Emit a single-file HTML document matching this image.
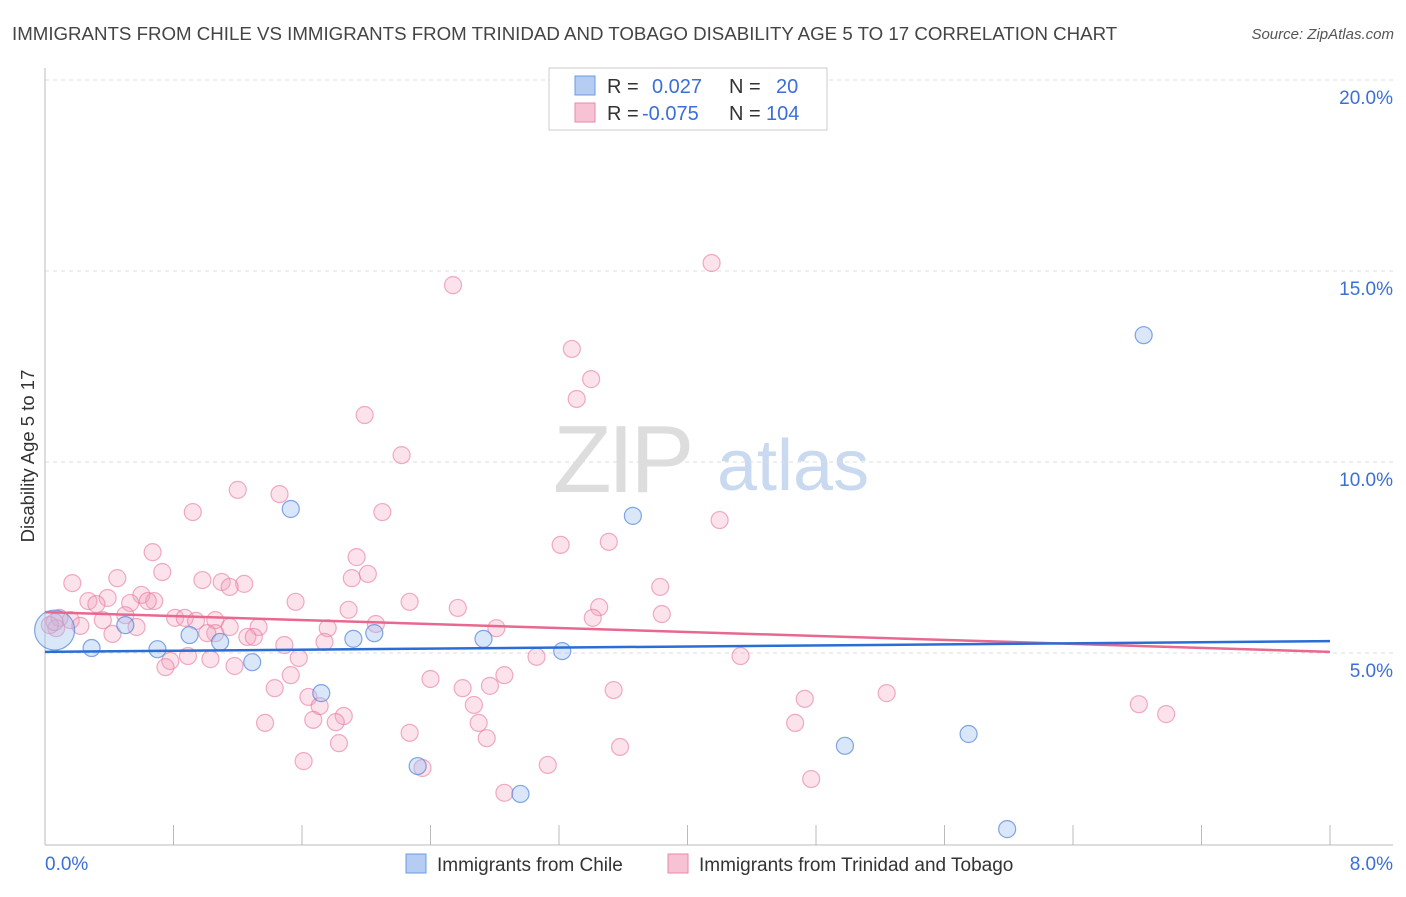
<!DOCTYPE html>
<html><head><meta charset="utf-8"><style>
body{margin:0;background:#fff;font-family:"Liberation Sans",sans-serif}
svg text{font-family:"Liberation Sans",sans-serif}
</style></head><body>
<svg id="chart" width="1406" height="892" viewBox="0 0 1406 892" xmlns="http://www.w3.org/2000/svg">
<text x="12" y="40" font-size="18.7" fill="#444">IMMIGRANTS FROM CHILE VS IMMIGRANTS FROM TRINIDAD AND TOBAGO DISABILITY AGE 5 TO 17 CORRELATION CHART</text>
<text x="1394" y="39" font-size="15" fill="#555" text-anchor="end" font-style="italic">Source: ZipAtlas.com</text>
<g>
<text x="553" y="492" font-size="96" fill="#ddd" font-family="Liberation Serif" letter-spacing="-4">ZIP</text>
<text x="717" y="490" font-size="72" fill="#c9daf0">atlas</text>
</g>
<g id="grid"></g>
<g id="axes"></g>
<g id="marks"></g>
<text transform="translate(34,456) rotate(-90)" font-size="18.5" fill="#333" text-anchor="middle">Disability Age 5 to 17</text>
<g>
<rect x="549" y="68" width="278" height="62" fill="#fff" stroke="#ccc"/>
<rect x="575" y="76" width="20" height="19" fill="#b5cdf3" stroke="#6a9be0"/>
<rect x="575" y="103" width="20" height="19" fill="#f7c3d4" stroke="#e88aa8"/>
<text x="607" y="93" font-size="20" fill="#333">R =</text>
<text x="652" y="93" font-size="20" fill="#3a6fd8">0.027</text>
<text x="729" y="93" font-size="20" fill="#333">N =</text>
<text x="776" y="93" font-size="20" fill="#3a6fd8">20</text>
<text x="607" y="120" font-size="20" fill="#333">R =</text>
<text x="642" y="120" font-size="20" fill="#3a6fd8">-0.075</text>
<text x="729" y="120" font-size="20" fill="#333">N =</text>
<text x="766" y="120" font-size="20" fill="#3a6fd8">104</text>
</g>
<g>
<rect x="406" y="854" width="20" height="19" fill="#b5cdf3" stroke="#6a9be0"/>
<text x="437" y="871" font-size="19" fill="#333">Immigrants from Chile</text>
<rect x="668" y="854" width="20" height="19" fill="#f7c3d4" stroke="#e88aa8"/>
<text x="699" y="871" font-size="19" fill="#333">Immigrants from Trinidad and Tobago</text>
</g>
</svg>
<script>
const yTicks=[5,10,15,20];
const yTickLabels=["5.0%","10.0%","15.0%","20.0%"];
const xTickLabels=["0.0%","8.0%"];
const chileX=[0.06,0.29,0.50,0.70,0.90,1.09,1.29,1.53,1.72,1.92,2.05,2.32,2.73,2.96,3.22,3.66,4.98,5.75,5.99,6.84];
const chileY=[5.60,5.13,5.73,5.10,5.47,5.29,4.76,8.77,3.95,5.37,5.52,2.04,5.37,1.31,5.05,8.59,2.57,2.88,0.39,13.32];
const ttX=[2.54,4.15,3.28,3.40,3.31,1.99,2.22,1.20,1.46,0.92,2.10,4.20,3.21,3.51,0.67,1.94,0.73,0.17,0.45,0.98,1.10,1.24,1.15,1.91,2.01,3.83,0.60,0.68,0.39,0.27,0.32,0.53,0.64,1.56,2.27,2.57,3.45,1.89,0.50,0.36,0.09,0.16,0.22,0.07,0.81,0.87,0.94,1.06,1.15,1.33,1.06,1.01,1.76,2.06,2.81,3.41,3.84,0.42,0.57,1.26,1.30,1.49,1.74,1.58,0.89,0.78,0.75,1.03,1.18,3.06,4.33,1.53,1.43,2.40,2.60,2.77,2.86,3.54,1.64,1.71,2.67,4.73,5.24,6.81,6.98,1.37,1.67,1.86,1.81,2.70,2.75,4.67,2.27,1.83,3.58,1.61,2.35,3.13,4.77,2.86,0.03,0.06];
const ttY=[14.63,15.21,12.96,12.17,11.65,11.23,10.18,9.27,9.16,8.69,8.69,8.48,7.83,7.91,7.64,7.51,7.12,6.83,6.96,6.91,6.86,6.81,6.73,6.96,7.07,6.73,6.52,6.36,6.44,6.36,6.28,6.31,6.36,6.34,6.34,6.18,6.20,6.13,5.99,5.86,5.92,5.86,5.71,5.65,5.92,5.92,5.84,5.86,5.68,5.68,5.52,5.52,5.65,5.76,5.65,5.92,6.02,5.50,5.68,5.42,5.42,5.21,5.29,4.87,4.92,4.79,4.63,4.84,4.66,4.90,4.92,4.42,4.08,4.32,4.08,4.14,4.42,4.03,3.85,3.61,3.64,3.80,3.95,3.66,3.40,3.17,3.25,3.35,3.19,3.17,2.77,3.17,2.91,2.64,2.54,2.17,1.99,2.07,1.70,1.34,5.73,5.81];
const chileTrend=[5.03,5.31];
const ttTrend=[6.07,5.03];
const X0=45,X1=1330,Y0=844,PY=38.2;
const sx=v=>X0+(X1-X0)*v/8;
const sy=v=>Y0-v*PY;
const NS="http://www.w3.org/2000/svg";
function mk(tag,attrs,parent){const e=document.createElementNS(NS,tag);for(const k in attrs)e.setAttribute(k,attrs[k]);document.getElementById(parent).appendChild(e);return e;}
yTicks.forEach((t,i)=>{
 const g=mk('line',{x1:X0,x2:1393,y1:sy(t),y2:sy(t),stroke:'#ddd','stroke-dasharray':'4,4'},'grid');
 
 
 const tx=mk('text',{x:1393,y:sy(t)+24,'font-size':19,fill:'#3a6fd8','text-anchor':'end'},'axes');
 tx.textContent=yTickLabels[i];
 
 
});
const ax=mk('line',{x1:X0,x2:X0,y1:68,y2:845,stroke:'#bbb'},'axes');


const bx=mk('line',{x1:X0,x2:1393,y1:845,y2:845,stroke:'#bbb'},'axes');


for(let i=0;i<=10;i++){
 const t=mk('line',{x1:sx(i*0.8),x2:sx(i*0.8),y1:825,y2:845,stroke:'#bbb'},'axes');
 
 
}
[[0,'start',X0],[8,'end',1393]].forEach((d,i)=>{
 const t=mk('text',{x:d[2],y:870,'font-size':19,fill:'#3a6fd8','text-anchor':d[1]},'axes');
 t.textContent=xTickLabels[i];
 
 
});
ttX.forEach((x,i)=>{
 const c=mk('circle',{cx:sx(x),cy:sy(ttY[i]),r:8.5,fill:'rgba(242,160,188,0.3)',stroke:'rgba(232,120,160,0.6)','stroke-width':1.2},'marks');
 
 
});
chileX.forEach((x,i)=>{
 const c=mk('circle',{cx:sx(x),cy:sy(chileY[i]),r:i===0?20:8.5,fill:'rgba(160,195,240,0.4)',stroke:'rgba(80,130,220,0.7)','stroke-width':1.2},'marks');
 
 
});
const l1=mk('line',{x1:sx(0),x2:sx(8),y1:sy(ttTrend[0]),y2:sy(ttTrend[1]),stroke:'#e8688f','stroke-width':2.5},'marks');


const l2=mk('line',{x1:sx(0),x2:sx(8),y1:sy(chileTrend[0]),y2:sy(chileTrend[1]),stroke:'#2a6dd6','stroke-width':2.5},'marks');


</script>
</body></html>
